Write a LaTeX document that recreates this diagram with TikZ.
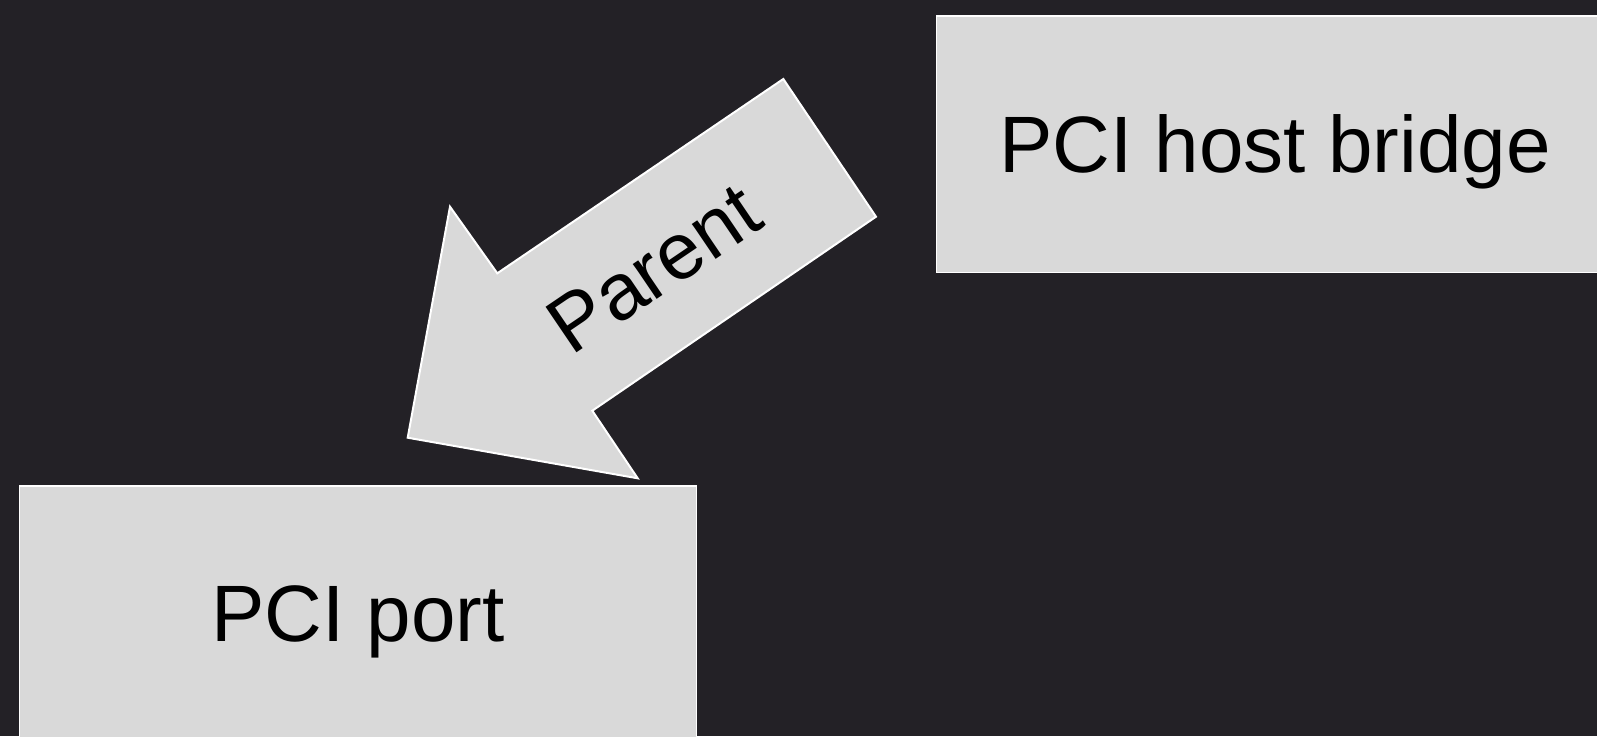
\documentclass[tikz,border=0pt]{standalone}
\usepackage{fontspec}
\setmainfont{Liberation Sans}
\definecolor{bgdark}{RGB}{35,33,38}
\definecolor{boxgrey}{RGB}{217,217,217}

\begin{document}
\begin{tikzpicture}[x=0.5pt, y=-0.5pt,
  label font/.style={font=\fontsize{40}{48}\selectfont, text depth=0pt},
  box/.style={draw=white, line width=0.75pt, fill=boxgrey, inner sep=0pt,
    minimum width=338.5pt, minimum height=128.25pt, label font},
  bigarrow/.style={draw=white, line width=1pt, fill=boxgrey}]
  \fill[bgdark] (0,0) rectangle (1597,736);
  \useasboundingbox (0,0) rectangle (1597,736);
  \node[box] (host) at (1275,144) {PCI host bridge};
  \node[box] (port) at (358,614) {PCI port};
  \draw[bigarrow] (783.3,79) -- (876,216.7) -- (592.3,410.7) -- (637.7,478.3)
    -- (407.7,437.7) -- (450,206.7) -- (497.3,273.3) -- cycle;
  \node[label font, rotate=34.15, inner sep=0pt] (parent) at (654,268) {Parent};
\end{tikzpicture}
\end{document}
